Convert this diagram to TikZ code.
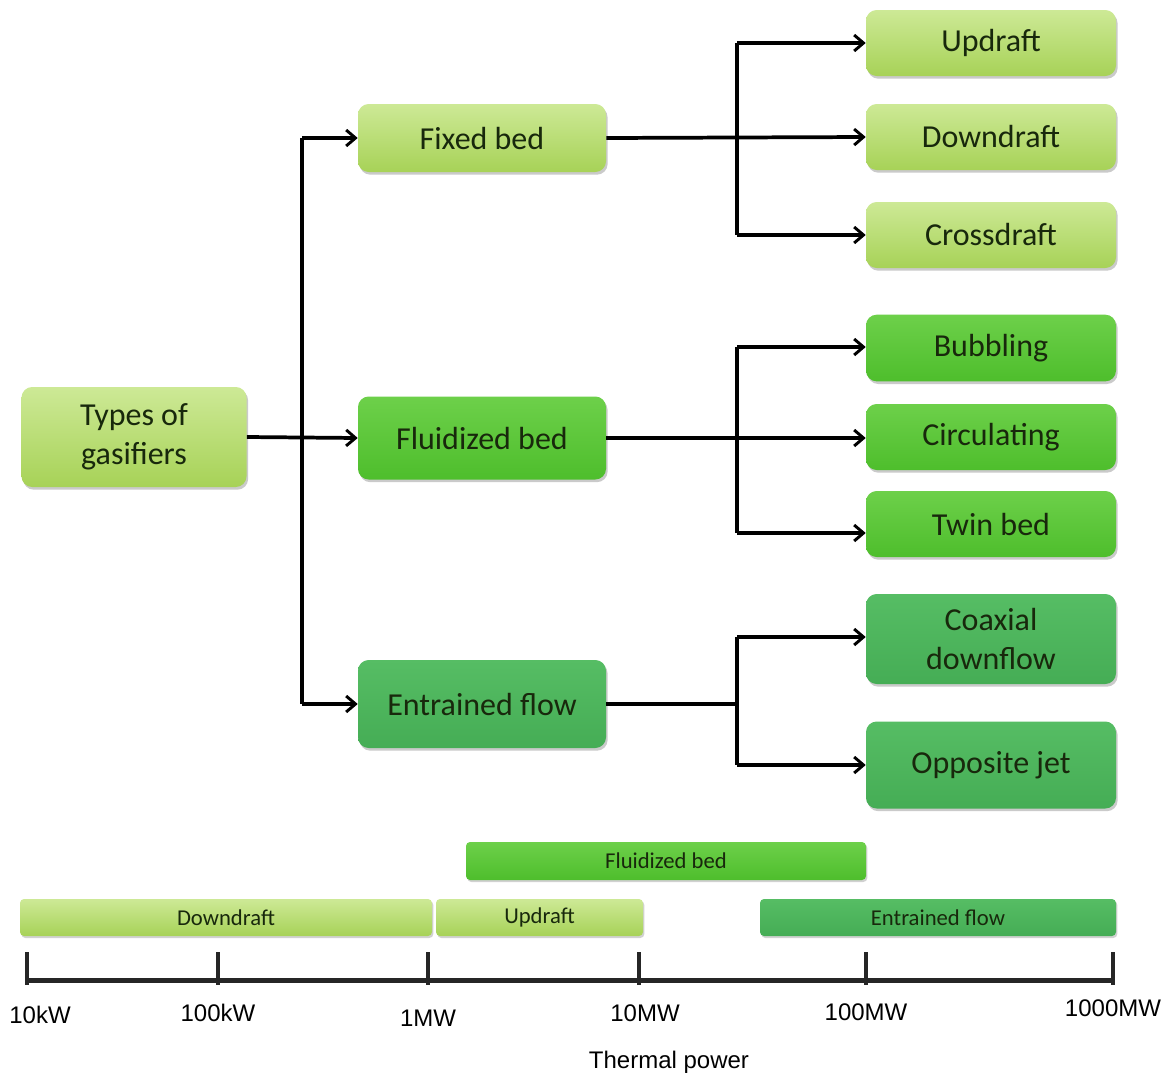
\documentclass[tikz,border=0pt]{standalone}
\usepackage{fontspec}
\setmainfont{Carlito}
\newfontfamily\arialf{Liberation Sans}
\usetikzlibrary{shadows,arrows.meta,calc}
\definecolor{lgT}{HTML}{CDE996}
\definecolor{lgB}{HTML}{A7D257}
\definecolor{fgT}{HTML}{6DD04A}
\definecolor{fgB}{HTML}{4EBE2C}
\definecolor{egT}{HTML}{56BD64}
\definecolor{egB}{HTML}{45AD55}
\definecolor{txt}{HTML}{18280C}
\tikzset{
  box/.style={rounded corners=8pt, inner sep=2pt, align=center, text=txt,
    font=\fontsize{24}{29}\selectfont,
    drop shadow={shadow xshift=1.2pt, shadow yshift=-2pt, opacity=0.35, fill=black!60}},
  light/.style={box, top color=lgT, bottom color=lgB},
  fluo/.style={box, top color=fgT, bottom color=fgB},
  entr/.style={box, top color=egT, bottom color=egB},
  bar/.style={rounded corners=3pt, inner sep=0pt, text=txt,
    font=\fontsize{17}{19}\selectfont,
    drop shadow={shadow xshift=1pt, shadow yshift=-1.5pt, opacity=0.3, fill=black!60}},
  midw/.style={minimum width=186pt},
  rightw/.style={minimum width=187.5pt},
  ln/.style={line width=2.8pt, black},
  arr/.style={ln, -{Straight Barb[length=7pt,width=12pt,line width=2.2pt]}},
  axl/.style={font=\arialf\fontsize{18}{20}\selectfont, text=black}
}
\begin{document}
\begin{tikzpicture}[x=0.75pt,y=-0.75pt]
\useasboundingbox (0,0) rectangle (1168,1079);
% left node
\node[light, minimum width=168.75pt, minimum height=75pt] (types) at (134,437) {Types of\\gasifiers};
% middle
\node[light, midw, minimum height=51pt] (fixed) at (482,138) {Fixed bed};
\node[fluo, midw, minimum height=62.25pt] (fluid) at (482,438) {Fluidized bed};
\node[entr, midw, minimum height=66pt] (entrn) at (482,704) {Entrained flow};
% right
\node[light, rightw, minimum height=49.5pt] (up) at (991,43) {Updraft};
\node[light, rightw, minimum height=49.5pt] (down) at (991,137) {Downdraft};
\node[light, rightw, minimum height=49.5pt] (cross) at (991,235) {Crossdraft};
\node[fluo, rightw, minimum height=50pt] (bub) at (991,348) {Bubbling};
\node[fluo, rightw, minimum height=49.5pt] (circ) at (991,437) {Circulating};
\node[fluo, rightw, minimum height=49.5pt] (twin) at (991,524) {Twin bed};
\node[entr, rightw, minimum height=67.5pt] (coax) at (991,639) {Coaxial\\downflow};
\node[entr, rightw, minimum height=65.25pt] (opp) at (991,765) {Opposite jet};
% connectors left
\coordinate (ja) at (302,138);
\coordinate (jb) at (302,704);
\draw[ln] (ja) -- (jb);
\draw[arr] (types.east) -- (fluid.west);
\draw[arr] (ja) -- (fixed.west);
\draw[arr] (jb) -- (entrn.west);
% fixed group
\coordinate (ka) at (737,43);
\coordinate (kb) at (737,235);
\draw[ln] (ka) -- (kb);
\draw[arr] (fixed.east) -- (down.west);
\draw[arr] (ka) -- (up.west);
\draw[arr] (kb) -- (cross.west);
% fluid group
\coordinate (la) at (737,347);
\coordinate (lb) at (737,533);
\draw[ln] (la) -- (lb);
\draw[arr] (fluid.east) -- (circ.west |- fluid.east);
\draw[arr] (la) -- (bub.west |- la);
\draw[arr] (lb) -- (twin.west |- lb);
% entrained group
\coordinate (ma) at (737,637);
\coordinate (mb) at (737,765);
\coordinate (mc) at (737,704);
\draw[ln] (ma) -- (mb);
\draw[ln] (entrn.east) -- (mc);
\draw[arr] (ma) -- (coax.west |- ma);
\draw[arr] (mb) -- (opp.west);
% bars
\node[bar, top color=fgT, bottom color=fgB, minimum width=300pt, minimum height=28.5pt] (bfl) at (666,861) {Fluidized bed};
\node[bar, top color=lgT, bottom color=lgB, minimum width=309pt, minimum height=27.75pt] (bdd) at (226,917.5) {Downdraft};
\node[bar, top color=lgT, bottom color=lgB, minimum width=155.25pt, minimum height=27.75pt] (bud) at (539.5,917.5) {Updraft};
\node[bar, top color=egT, bottom color=egB, minimum width=267pt, minimum height=27.75pt] (ben) at (938,917.5) {Entrained flow};
% axis
\draw[line width=3.75pt, black!85] (27,980) -- (1113,980);
\foreach \xx in {27,218,428,639,866,1113}
  \draw[line width=3pt, black!85] (\xx,952) -- (\xx,985);
\node[axl] (l1) at (40,1015) {10kW};
\node[axl] (l2) at (218,1013) {100kW};
\node[axl] (l3) at (428,1018) {1MW};
\node[axl] (l4) at (645,1013) {10MW};
\node[axl] (l5) at (866,1012) {100MW};
\node[axl] (l6) at (1113,1008) {1000MW};
\node[axl] (tp) at (669,1062) {Thermal power};
\end{tikzpicture}
\end{document}
